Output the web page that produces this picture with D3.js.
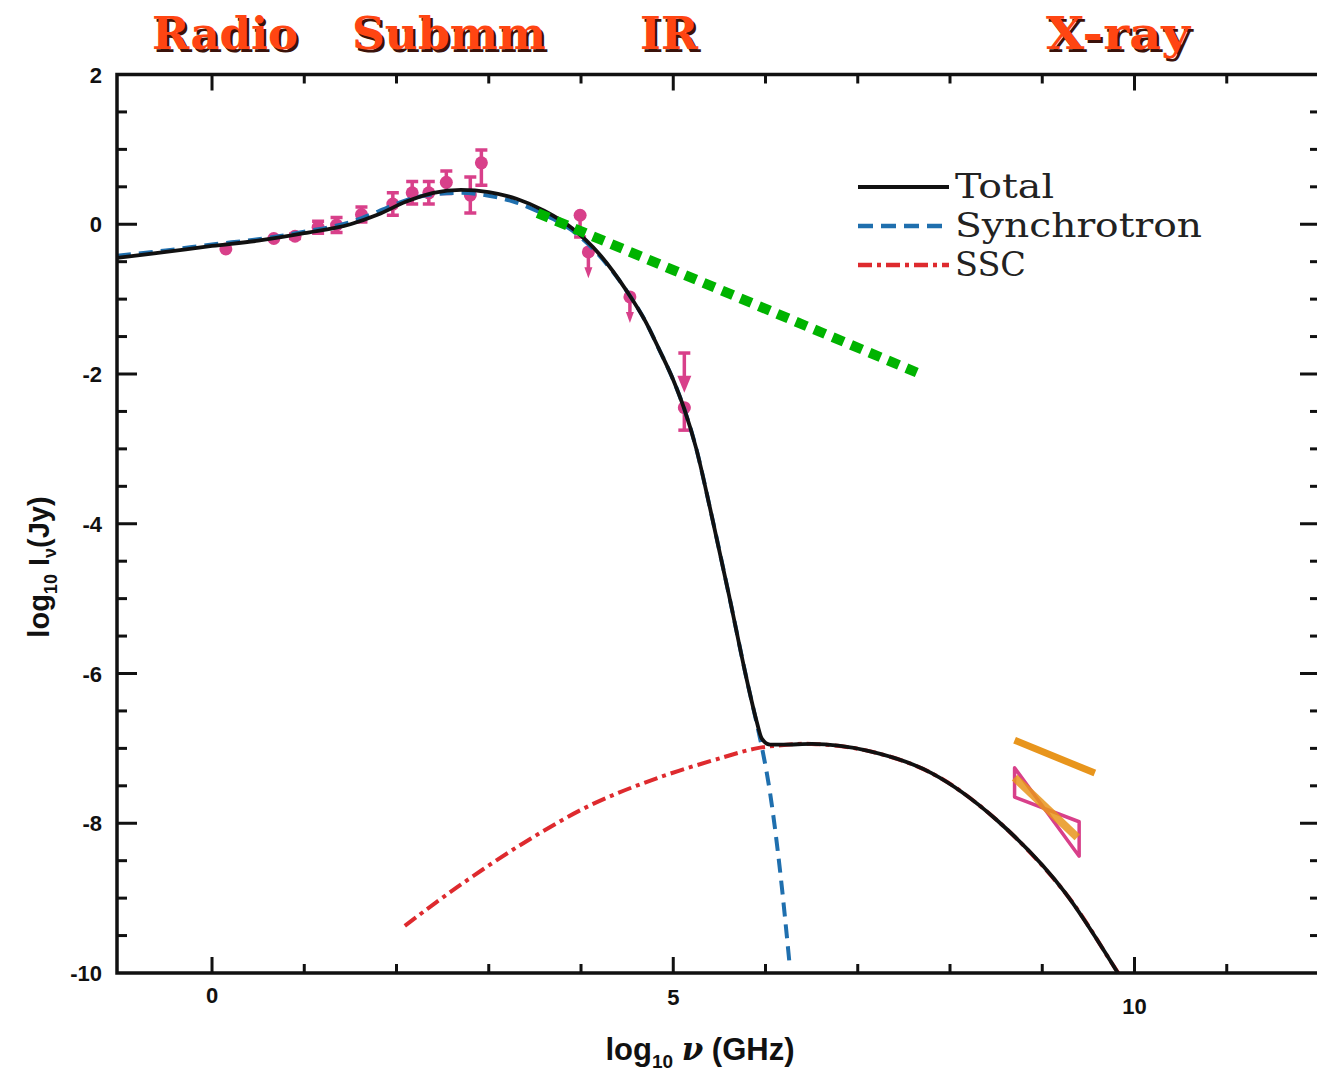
<!DOCTYPE html>
<html>
<head>
<meta charset="utf-8">
<script src="https://cdn.jsdelivr.net/npm/d3@7"></script>
<style>
  body { margin: 0; background: #fff; }
  svg { display: block; }
</style>
</head>
<body>
<svg id="chart" width="1317" height="1073"></svg>
<script>
// --- data (log10 nu in GHz, log10 I in Jy) ---
const totalX = [-1.03, -0.5, 0, 0.5, 1.0, 1.5, 1.8, 2.1, 2.4, 2.7, 3.0, 3.3, 3.6, 3.9, 4.2, 4.5, 4.7, 4.85, 5.0, 5.12, 5.25, 5.4, 5.6, 5.8, 5.9, 5.96, 6.05, 6.2, 6.5, 7.1, 7.8, 8.5, 9.25, 9.76, 9.82];
const totalY = [-0.45, -0.37, -0.29, -0.22, -0.12, 0.0, 0.13, 0.3, 0.42, 0.46, 0.43, 0.34, 0.18, -0.05, -0.4, -0.9, -1.3, -1.68, -2.08, -2.47, -3.0, -3.8, -4.93, -6.1, -6.62, -6.87, -6.95, -6.95, -6.94, -7.03, -7.33, -7.95, -8.93, -9.88, -10.0];

const syncX = [-1.03, -0.5, 0, 0.5, 1.0, 1.5, 1.8, 2.1, 2.4, 2.7, 3.0, 3.3, 3.6, 3.9, 4.2, 4.5, 4.7, 4.85, 5.0, 5.12, 5.25, 5.4, 5.6, 5.8, 5.9, 5.96, 6.05, 6.15, 6.26];
const syncY = [-0.42, -0.35, -0.27, -0.2, -0.1, 0.03, 0.17, 0.32, 0.4, 0.42, 0.38, 0.29, 0.13, -0.08, -0.42, -0.9, -1.3, -1.68, -2.08, -2.47, -3.0, -3.8, -4.93, -6.1, -6.64, -6.98, -7.6, -8.55, -9.87];

const sscX = [2.09, 2.65, 3.37, 4.1, 4.82, 5.54, 5.9, 6.2, 6.5, 7.1, 7.8, 8.5, 9.25, 9.76, 9.85];
const sscY = [-9.37, -8.86, -8.27, -7.76, -7.40, -7.12, -7.0, -6.955, -6.94, -7.03, -7.33, -7.95, -8.93, -9.88, -10.05];

// measured fluxes with error bars
const obsX  = [0.15, 0.67, 0.9, 1.15, 1.35, 1.62, 1.96, 2.17, 2.35, 2.54, 2.8, 2.92, 3.99, 4.08, 4.53, 5.12];
const obsY  = [-0.33, -0.19, -0.16, -0.04, -0.01, 0.13, 0.27, 0.42, 0.42, 0.56, 0.39, 0.82, 0.12, -0.37, -0.97, -2.45];
const obsLo = [-0.33, -0.19, -0.19, -0.12, -0.11, 0.03, 0.12, 0.27, 0.27, 0.41, 0.15, 0.52, -0.17, -0.37, -0.97, -2.75];
const obsHi = [-0.33, -0.19, -0.13, 0.04, 0.09, 0.23, 0.42, 0.57, 0.57, 0.71, 0.63, 0.99, 0.12, -0.37, -0.97, -2.45];

// upper limits (arrows)
const limX    = [4.08, 4.53, 5.12];
const limTop  = [-0.37, -0.97, -1.72];
const limBot  = [-0.72, -1.32, -2.25];

// extra lines
const greenLine  = [[3.53, 0.15], [7.64, -1.98]];
const orangeTop  = [[8.70, -6.89], [9.57, -7.33]];
const orangeMid  = [[8.70, -7.39], [9.38, -8.19]];
const bowtie     = [[8.70, -7.26], [9.40, -8.44], [9.40, -7.98], [8.70, -7.65]];

const bandLabels = ["Radio", "Submm", "IR", "X-ray"];
const bandX      = [225, 449, 669, 1118];
const bandWidth  = [146, 194, 58, 144];

const legendNames = ["Total", "Synchrotron", "SSC"];

const xTickLabels = [0, 5, 10];
const yTickLabels = [2, 0, -2, -4, -6, -8, -10];

// --- scales ---
const svg = d3.select("#chart");
const x = d3.scaleLinear().domain([-1.03, 12]).range([117, 1319]);
const y = d3.scaleLinear().domain([-10, 2]).range([973, 74.5]);

const black = "#111", blue = "#1f6fae", red = "#de2a2e", pink = "#d8408a";
const green = "#00b300", orange = "#e8951c";

const line = d3.line().x(d => x(d[0])).y(d => y(d[1]));
const smooth = d3.line().x(d => x(d[0])).y(d => y(d[1])).curve(d3.curveMonotoneX);
const soft = d3.line().x(d => x(d[0])).y(d => y(d[1])).curve(d3.curveCatmullRom.alpha(0.5));

const plot = svg.append("g");
plot.append("clipPath").attr("id", "clip")
  .append("rect").attr("x", x(-1.03)).attr("y", y(2)).attr("width", 1320 - x(-1.03)).attr("height", y(-10) - y(2) + 6);
const inner = plot.append("g").attr("clip-path", "url(#clip)");

// --- data points ---
const pts = inner.append("g").attr("fill", pink).attr("stroke", pink);
obsX.forEach((vx, i) => {
  if (obsHi[i] > obsLo[i]) {
    pts.append("line").attr("x1", x(vx)).attr("x2", x(vx))
      .attr("y1", y(obsLo[i])).attr("y2", y(obsHi[i])).attr("stroke-width", 3.5);
    [obsLo[i], obsHi[i]].forEach(v => pts.append("line")
      .attr("x1", x(vx) - 6).attr("x2", x(vx) + 6)
      .attr("y1", y(v)).attr("y2", y(v)).attr("stroke-width", 3.5));
  }
  pts.append("circle").attr("cx", x(vx)).attr("cy", y(obsY[i])).attr("r", 6.5).attr("stroke", "none");
});
limX.forEach((vx, i) => {
  const xa = x(vx), t = y(limTop[i]), b = y(limBot[i]);
  pts.append("line").attr("x1", xa).attr("x2", xa).attr("y1", t).attr("y2", b - 8).attr("stroke-width", 3.5);
  if (i === 2) pts.append("line").attr("x1", xa - 6).attr("x2", xa + 6).attr("y1", t).attr("y2", t).attr("stroke-width", 3.5);
  const hw = i === 2 ? 7 : 4, hh = i === 2 ? 17 : 11;
  pts.append("path").attr("stroke", "none")
    .attr("d", `M${xa - hw},${b - hh}L${xa + hw},${b - hh}L${xa},${b}Z`);
});

// --- model curves ---
inner.append("path").datum(sscX.map((v, i) => [v, sscY[i]]))
  .attr("d", soft).attr("fill", "none").attr("stroke", red)
  .attr("stroke-width", 4).attr("stroke-dasharray", "14,5,4,5");

inner.append("path").datum(syncX.map((v, i) => [v, syncY[i]]))
  .attr("d", smooth).attr("fill", "none").attr("stroke", blue)
  .attr("stroke-width", 4).attr("stroke-dasharray", "14,8");

inner.append("path").datum(totalX.map((v, i) => [v, totalY[i]]))
  .attr("d", smooth).attr("fill", "none").attr("stroke", black)
  .attr("stroke-width", 3.8);

// green power law
inner.append("path").datum(greenLine).attr("d", line)
  .attr("fill", "none").attr("stroke", green).attr("stroke-width", 10).attr("stroke-dasharray", "12,8");

// X-ray bowtie and lines
inner.append("path").datum(bowtie).attr("d", d => line(d) + "Z")
  .attr("fill", "none").attr("stroke", pink).attr("stroke-width", 3.5).attr("stroke-linejoin", "round");
inner.append("path").datum(orangeMid).attr("d", line)
  .attr("stroke", orange).attr("stroke-opacity", 0.85).attr("stroke-width", 8);
inner.append("path").datum(orangeTop).attr("d", line)
  .attr("stroke", orange).attr("stroke-width", 7);

// --- frame and ticks ---
const frame = svg.append("g").attr("stroke", black).attr("fill", "none");
frame.append("path").attr("stroke-width", 3.5)
  .attr("d", `M1320,${y(2)}H${x(-1.03)}V${y(-10)}H1320`);
frame.append("line").attr("x1", 1320).attr("x2", 1320).attr("y1", y(2)).attr("y2", y(-10)).attr("stroke-width", 3.5);

d3.range(0, 12).forEach(v => {
  const major = v % 5 === 0;
  const L = major ? 16 : 9;
  frame.append("line").attr("x1", x(v)).attr("x2", x(v))
    .attr("y1", y(-10)).attr("y2", y(-10) - L).attr("stroke-width", 3);
  frame.append("line").attr("x1", x(v)).attr("x2", x(v))
    .attr("y1", y(2)).attr("y2", y(2) + L).attr("stroke-width", 3);
});
d3.range(-9.5, 2, 0.5).forEach(v => {
  const major = Math.abs(v % 2) < 1e-9;
  frame.append("line").attr("x1", x(-1.03)).attr("x2", x(-1.03) + (major ? 20 : 10))
    .attr("y1", y(v)).attr("y2", y(v)).attr("stroke-width", 3);
  frame.append("line").attr("x1", 1317).attr("x2", 1317 - (major ? 17 : 7))
    .attr("y1", y(v)).attr("y2", y(v)).attr("stroke-width", 3);
});

// tick labels
const tickFont = "'Liberation Sans', Arial, sans-serif";
svg.append("g").selectAll("text").data(yTickLabels).join("text")
  .attr("x", 102).attr("y", d => y(d) + 8)
  .attr("text-anchor", "end").attr("font-family", tickFont).attr("font-weight", "bold")
  .attr("font-size", 22).attr("fill", black).text(d => d);
svg.append("g").selectAll("text").data(xTickLabels).join("text")
  .attr("x", d => x(d)).attr("y", d => d === 10 ? 1014 : (d === 5 ? 1005 : 1003))
  .attr("text-anchor", "middle").attr("font-family", tickFont).attr("font-weight", "bold")
  .attr("font-size", 22).attr("fill", black).text(d => d);

// axis titles
const xt = svg.append("text").attr("x", 700).attr("y", 1060).attr("text-anchor", "middle")
  .attr("font-family", tickFont).attr("font-weight", "bold").attr("font-size", 31).attr("fill", black);
xt.append("tspan").text("log");
xt.append("tspan").attr("font-size", 19).attr("dy", 8).text("10");
xt.append("tspan").attr("dy", -8).text(" ");
xt.append("tspan").attr("font-style", "italic").attr("font-family", "'DejaVu Serif', serif").text("ν");
xt.append("tspan").text(" (GHz)");

const yt = svg.append("text").attr("transform", "translate(49,567) rotate(-90)").attr("text-anchor", "middle")
  .attr("font-family", tickFont).attr("font-weight", "bold").attr("font-size", 29).attr("fill", black);
yt.append("tspan").text("log");
yt.append("tspan").attr("font-size", 18).attr("dy", 8).text("10");
yt.append("tspan").attr("dy", -8).text("  I");
yt.append("tspan").attr("font-size", 18).attr("dy", 7).text("ν");
yt.append("tspan").attr("dy", -7).text("(Jy)");

// --- band labels with shadow ---
const bands = svg.append("g").attr("font-family", "'DejaVu Serif', serif")
  .attr("font-weight", "bold").attr("font-size", 44).attr("text-anchor", "middle");
bandLabels.forEach((t, i) => {
  [["#3b120a", 2.5], ["#ff4512", 0]].forEach(([c, o]) => {
    bands.append("text").attr("x", bandX[i] + o).attr("y", 49 + o)
      .attr("textLength", bandWidth[i]).attr("lengthAdjust", "spacingAndGlyphs")
      .attr("fill", c).text(t);
  });
});

// --- legend ---
const legY = [187, 226, 265];
const legStyle = [
  { c: black, dash: null, w: 4 },
  { c: blue, dash: "15,8", w: 4.5 },
  { c: red, dash: "14,5,4,5", w: 4.5 }
];
const leg = svg.append("g");
legendNames.forEach((n, i) => {
  leg.append("line").attr("x1", 858).attr("x2", 949).attr("y1", legY[i]).attr("y2", legY[i])
    .attr("stroke", legStyle[i].c).attr("stroke-width", legStyle[i].w)
    .attr("stroke-dasharray", legStyle[i].dash);
  leg.append("text").attr("x", 955).attr("y", legY[i] + 11)
    .attr("font-family", "'DejaVu Serif', serif").attr("font-size", 33).attr("fill", "#222")
    .attr("textLength", [99, 247, 71][i]).attr("lengthAdjust", "spacingAndGlyphs")
    .text(n);
});
</script>
</body>
</html>
